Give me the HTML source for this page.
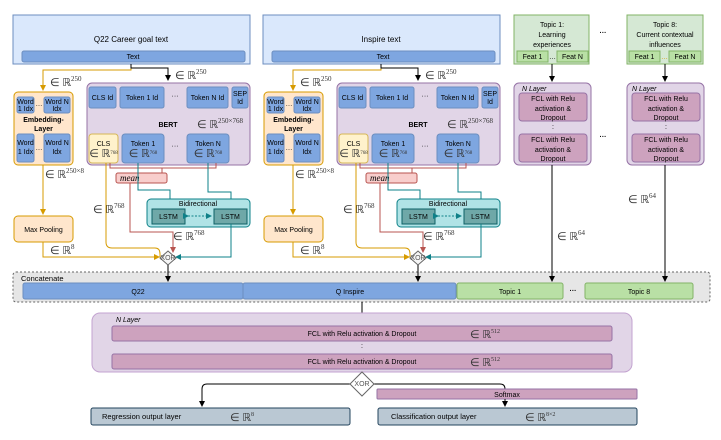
<!DOCTYPE html>
<html><head><meta charset="utf-8"><style>
body{margin:0;background:#fff}
svg{display:block;font-family:"Liberation Sans",sans-serif}
.s{font-size:7px;text-anchor:middle}
.m{font-family:"Liberation Serif",serif;font-size:11px;fill:#333}
.p{font-size:7px}
</style></head><body>
<svg width="721" height="440" viewBox="0 0 721 440" xmlns="http://www.w3.org/2000/svg">
<defs>
<marker id="ak" markerWidth="6" markerHeight="6" refX="5" refY="3" orient="auto" markerUnits="userSpaceOnUse"><path d="M0,0L6,3L0,6z" fill="#000"/></marker>
<marker id="ao" markerWidth="6" markerHeight="6" refX="5" refY="3" orient="auto" markerUnits="userSpaceOnUse"><path d="M0,0L6,3L0,6z" fill="#d79b00"/></marker>
<marker id="ar" markerWidth="6" markerHeight="6" refX="5" refY="3" orient="auto" markerUnits="userSpaceOnUse"><path d="M0,0L6,3L0,6z" fill="#b85450"/></marker>
<marker id="at" markerWidth="6" markerHeight="6" refX="5" refY="3" orient="auto" markerUnits="userSpaceOnUse"><path d="M0,0L6,3L0,6z" fill="#0e8088"/></marker>
</defs>
<rect x="13" y="272" width="697" height="30" rx="3" fill="#e6e6e6" stroke="#666" stroke-dasharray="2,2"/>

<g transform="translate(0,0)">
<rect x="13" y="15" width="237" height="49" fill="#dae8fc" stroke="#6c8ebf"/>
<rect x="22" y="51" width="223" height="11" rx="2" fill="#7ea6e0" stroke="#6c8ebf"/>
<text x="133" y="59" class="s">Text</text>
<path d="M131,64V70H43V90" fill="none" stroke="#d79b00" marker-end="url(#ao)"/>
<path d="M131,64V68H168V80" fill="none" stroke="#000" marker-end="url(#ak)"/>
<text x="175" y="79" class="m">∈ ℝ<tspan class="p" dy="-5">250</tspan></text>
<text x="50" y="86" class="m">∈ ℝ<tspan class="p" dy="-5">250</tspan></text>
<rect x="14" y="92" width="59" height="73" rx="4" fill="#ffe6cc" stroke="#d79b00"/>
<rect x="17" y="97" width="17" height="16" rx="2" fill="#7ea6e0" stroke="#6c8ebf"/>
<rect x="44" y="97" width="26" height="16" rx="2" fill="#7ea6e0" stroke="#6c8ebf"/>
<text x="25.5" y="104" class="s" font-size="6">Word</text><text x="25.5" y="111" class="s" font-size="6">1 Idx</text>
<text x="57" y="104" class="s" font-size="6">Word N</text><text x="57" y="111" class="s" font-size="6">Idx</text>
<text x="39" y="106" class="s">…</text>
<text x="43.5" y="122" class="s" font-weight="bold" font-size="7.5">Embedding-</text>
<text x="43.5" y="131" class="s" font-weight="bold" font-size="7.5">Layer</text>
<rect x="17" y="134" width="17" height="28" rx="2" fill="#7ea6e0" stroke="#6c8ebf"/>
<rect x="44" y="134" width="26" height="28" rx="2" fill="#7ea6e0" stroke="#6c8ebf"/>
<text x="25.5" y="145" class="s" font-size="6">Word</text><text x="25.5" y="154" class="s" font-size="6">1 Idx</text>
<text x="57" y="145" class="s" font-size="6">Word N</text><text x="57" y="154" class="s" font-size="6">Idx</text>
<text x="39" y="150" class="s">…</text>
<rect x="87" y="83" width="163" height="82" rx="5" fill="#e1d5e7" stroke="#9673a6"/>
<rect x="89" y="87" width="27" height="21" rx="2" fill="#7ea6e0" stroke="#6c8ebf"/><text x="102.5" y="100" class="s">CLS Id</text>
<rect x="120" y="87" width="44" height="21" rx="2" fill="#7ea6e0" stroke="#6c8ebf"/><text x="142" y="100" class="s">Token 1 Id</text>
<text x="175" y="98" class="s" font-size="9">···</text>
<rect x="187" y="87" width="41" height="21" rx="2" fill="#7ea6e0" stroke="#6c8ebf"/><text x="207.5" y="100" class="s">Token N Id</text>
<rect x="232" y="87" width="16" height="21" rx="2" fill="#7ea6e0" stroke="#6c8ebf"/><text x="240" y="96" class="s">SEP</text><text x="240" y="104" class="s">Id</text>
<text x="168" y="127" class="s" font-weight="bold" font-size="7.5">BERT</text>
<text x="197" y="128" class="m">∈ ℝ<tspan class="p" dy="-5">250×768</tspan></text>
<rect x="89" y="134" width="29" height="29" rx="3" fill="#fff2cc" stroke="#d6b656"/>
<text x="103.5" y="146" class="s">CLS</text><text x="103.5" y="157" class="m" font-size="8" text-anchor="middle">∈ ℝ<tspan font-size="5" dy="-3">768</tspan></text>
<rect x="122" y="134" width="42" height="29" rx="3" fill="#7ea6e0" stroke="#6c8ebf"/>
<text x="143" y="146" class="s">Token 1</text><text x="143" y="157" class="m" font-size="8" text-anchor="middle">∈ ℝ<tspan font-size="5" dy="-3">768</tspan></text>
<text x="175" y="148" class="s" font-size="9">···</text>
<rect x="187" y="134" width="42" height="29" rx="3" fill="#7ea6e0" stroke="#6c8ebf"/>
<text x="208" y="146" class="s">Token N</text><text x="208" y="157" class="m" font-size="8" text-anchor="middle">∈ ℝ<tspan font-size="5" dy="-3">768</tspan></text>
<path d="M110,163V168H216V163M162,168V173" fill="none" stroke="#b85450"/>
<rect x="116" y="173" width="51" height="10" rx="2" fill="#f8cecc" stroke="#b85450"/>
<text x="120" y="181" font-family="Liberation Serif,serif" font-style="italic" font-size="9">mean</text>
<path d="M130,183V232H173V252" fill="none" stroke="#b85450" marker-end="url(#ar)"/>
<path d="M138,163V190H170V199" fill="none" stroke="#0e8088"/>
<path d="M208,163V192H231V207" fill="none" stroke="#0e8088" marker-end="url(#at)"/>
<rect x="147" y="199" width="103" height="28" rx="4" fill="#b0e3e6" stroke="#0e8088"/>
<text x="198" y="206" class="s">Bidirectional</text>
<rect x="152" y="209" width="33" height="15" fill="#6fa8a8" stroke="#0e6066"/><text x="168.5" y="219" class="s">LSTM</text>
<rect x="214" y="209" width="33" height="15" fill="#6fa8a8" stroke="#0e6066"/><text x="230.5" y="219" class="s">LSTM</text>
<path d="M188,216H211" stroke="#0e8088" stroke-dasharray="2,1.5" marker-end="url(#at)" marker-start="url(#at)"/>
<path d="M231,224V257H176" fill="none" stroke="#0e8088" marker-end="url(#at)"/>
<path d="M106,163V242Q106,248 112,248H155Q160,248 160,254V257" fill="none" stroke="#d79b00"/>
<path d="M43,165V214" stroke="#d79b00" marker-end="url(#ao)"/>
<text x="45" y="178" class="m">∈ ℝ<tspan class="p" dy="-5">250×8</tspan></text>
<text x="93" y="213" class="m">∈ ℝ<tspan class="p" dy="-5">768</tspan></text>
<text x="173" y="240" class="m">∈ ℝ<tspan class="p" dy="-5">768</tspan></text>
<rect x="14" y="216" width="59" height="26" rx="4" fill="#ffe6cc" stroke="#d79b00"/>
<text x="43.5" y="232" class="s" font-size="7.5">Max Pooling</text>
<path d="M43,242V257H159" fill="none" stroke="#d79b00" marker-end="url(#ao)"/>
<text x="50" y="254" class="m">∈ ℝ<tspan class="p" dy="-5">8</tspan></text>
<path d="M168,251L176,258L168,265L160,258z" fill="#f5f5f5" stroke="#666"/>
<text x="168" y="260" class="s" font-size="5" fill="#555">XOR</text>
<path d="M168,265V281" stroke="#000" marker-end="url(#ak)"/>
<text x="131" y="42" font-size="8" text-anchor="middle">Q22 Career goal text</text>
</g>

<g transform="translate(250,0)">
<rect x="13" y="15" width="237" height="49" fill="#dae8fc" stroke="#6c8ebf"/>
<rect x="22" y="51" width="223" height="11" rx="2" fill="#7ea6e0" stroke="#6c8ebf"/>
<text x="133" y="59" class="s">Text</text>
<path d="M131,64V70H43V90" fill="none" stroke="#d79b00" marker-end="url(#ao)"/>
<path d="M131,64V68H168V80" fill="none" stroke="#000" marker-end="url(#ak)"/>
<text x="175" y="79" class="m">∈ ℝ<tspan class="p" dy="-5">250</tspan></text>
<text x="50" y="86" class="m">∈ ℝ<tspan class="p" dy="-5">250</tspan></text>
<rect x="14" y="92" width="59" height="73" rx="4" fill="#ffe6cc" stroke="#d79b00"/>
<rect x="17" y="97" width="17" height="16" rx="2" fill="#7ea6e0" stroke="#6c8ebf"/>
<rect x="44" y="97" width="26" height="16" rx="2" fill="#7ea6e0" stroke="#6c8ebf"/>
<text x="25.5" y="104" class="s" font-size="6">Word</text><text x="25.5" y="111" class="s" font-size="6">1 Idx</text>
<text x="57" y="104" class="s" font-size="6">Word N</text><text x="57" y="111" class="s" font-size="6">Idx</text>
<text x="39" y="106" class="s">…</text>
<text x="43.5" y="122" class="s" font-weight="bold" font-size="7.5">Embedding-</text>
<text x="43.5" y="131" class="s" font-weight="bold" font-size="7.5">Layer</text>
<rect x="17" y="134" width="17" height="28" rx="2" fill="#7ea6e0" stroke="#6c8ebf"/>
<rect x="44" y="134" width="26" height="28" rx="2" fill="#7ea6e0" stroke="#6c8ebf"/>
<text x="25.5" y="145" class="s" font-size="6">Word</text><text x="25.5" y="154" class="s" font-size="6">1 Idx</text>
<text x="57" y="145" class="s" font-size="6">Word N</text><text x="57" y="154" class="s" font-size="6">Idx</text>
<text x="39" y="150" class="s">…</text>
<rect x="87" y="83" width="163" height="82" rx="5" fill="#e1d5e7" stroke="#9673a6"/>
<rect x="89" y="87" width="27" height="21" rx="2" fill="#7ea6e0" stroke="#6c8ebf"/><text x="102.5" y="100" class="s">CLS Id</text>
<rect x="120" y="87" width="44" height="21" rx="2" fill="#7ea6e0" stroke="#6c8ebf"/><text x="142" y="100" class="s">Token 1 Id</text>
<text x="175" y="98" class="s" font-size="9">···</text>
<rect x="187" y="87" width="41" height="21" rx="2" fill="#7ea6e0" stroke="#6c8ebf"/><text x="207.5" y="100" class="s">Token N Id</text>
<rect x="232" y="87" width="16" height="21" rx="2" fill="#7ea6e0" stroke="#6c8ebf"/><text x="240" y="96" class="s">SEP</text><text x="240" y="104" class="s">Id</text>
<text x="168" y="127" class="s" font-weight="bold" font-size="7.5">BERT</text>
<text x="197" y="128" class="m">∈ ℝ<tspan class="p" dy="-5">250×768</tspan></text>
<rect x="89" y="134" width="29" height="29" rx="3" fill="#fff2cc" stroke="#d6b656"/>
<text x="103.5" y="146" class="s">CLS</text><text x="103.5" y="157" class="m" font-size="8" text-anchor="middle">∈ ℝ<tspan font-size="5" dy="-3">768</tspan></text>
<rect x="122" y="134" width="42" height="29" rx="3" fill="#7ea6e0" stroke="#6c8ebf"/>
<text x="143" y="146" class="s">Token 1</text><text x="143" y="157" class="m" font-size="8" text-anchor="middle">∈ ℝ<tspan font-size="5" dy="-3">768</tspan></text>
<text x="175" y="148" class="s" font-size="9">···</text>
<rect x="187" y="134" width="42" height="29" rx="3" fill="#7ea6e0" stroke="#6c8ebf"/>
<text x="208" y="146" class="s">Token N</text><text x="208" y="157" class="m" font-size="8" text-anchor="middle">∈ ℝ<tspan font-size="5" dy="-3">768</tspan></text>
<path d="M110,163V168H216V163M162,168V173" fill="none" stroke="#b85450"/>
<rect x="116" y="173" width="51" height="10" rx="2" fill="#f8cecc" stroke="#b85450"/>
<text x="120" y="181" font-family="Liberation Serif,serif" font-style="italic" font-size="9">mean</text>
<path d="M130,183V232H173V252" fill="none" stroke="#b85450" marker-end="url(#ar)"/>
<path d="M138,163V190H170V199" fill="none" stroke="#0e8088"/>
<path d="M208,163V192H231V207" fill="none" stroke="#0e8088" marker-end="url(#at)"/>
<rect x="147" y="199" width="103" height="28" rx="4" fill="#b0e3e6" stroke="#0e8088"/>
<text x="198" y="206" class="s">Bidirectional</text>
<rect x="152" y="209" width="33" height="15" fill="#6fa8a8" stroke="#0e6066"/><text x="168.5" y="219" class="s">LSTM</text>
<rect x="214" y="209" width="33" height="15" fill="#6fa8a8" stroke="#0e6066"/><text x="230.5" y="219" class="s">LSTM</text>
<path d="M188,216H211" stroke="#0e8088" stroke-dasharray="2,1.5" marker-end="url(#at)" marker-start="url(#at)"/>
<path d="M231,224V257H176" fill="none" stroke="#0e8088" marker-end="url(#at)"/>
<path d="M106,163V242Q106,248 112,248H155Q160,248 160,254V257" fill="none" stroke="#d79b00"/>
<path d="M43,165V214" stroke="#d79b00" marker-end="url(#ao)"/>
<text x="45" y="178" class="m">∈ ℝ<tspan class="p" dy="-5">250×8</tspan></text>
<text x="93" y="213" class="m">∈ ℝ<tspan class="p" dy="-5">768</tspan></text>
<text x="173" y="240" class="m">∈ ℝ<tspan class="p" dy="-5">768</tspan></text>
<rect x="14" y="216" width="59" height="26" rx="4" fill="#ffe6cc" stroke="#d79b00"/>
<text x="43.5" y="232" class="s" font-size="7.5">Max Pooling</text>
<path d="M43,242V257H159" fill="none" stroke="#d79b00" marker-end="url(#ao)"/>
<text x="50" y="254" class="m">∈ ℝ<tspan class="p" dy="-5">8</tspan></text>
<path d="M168,251L176,258L168,265L160,258z" fill="#f5f5f5" stroke="#666"/>
<text x="168" y="260" class="s" font-size="5" fill="#555">XOR</text>
<path d="M168,265V281" stroke="#000" marker-end="url(#ak)"/>
<text x="131" y="42" font-size="8" text-anchor="middle">Inspire text</text>
</g>

<rect x="514" y="15" width="75" height="49" fill="#d5e8d4" stroke="#82b366"/>
<text x="552" y="27" class="s" font-size="7.5">Topic 1:</text><text x="552" y="37" class="s" font-size="7.5">Learning</text><text x="552" y="47" class="s" font-size="7.5">experiences</text>
<rect x="517" y="51" width="31" height="11" fill="#b9e0a5" stroke="#82b366"/><text x="532.5" y="59" class="s">Feat 1</text>
<rect x="557" y="51" width="31" height="11" fill="#b9e0a5" stroke="#82b366"/><text x="572.5" y="59" class="s">Feat N</text>
<text x="552.5" y="59" class="s">…</text>
<rect x="627" y="15" width="76" height="49" fill="#d5e8d4" stroke="#82b366"/>
<text x="665" y="27" class="s" font-size="7.5">Topic 8:</text><text x="665" y="37" class="s" font-size="7.5">Current contextual</text><text x="665" y="47" class="s" font-size="7.5">influences</text>
<rect x="629" y="51" width="31" height="11" fill="#b9e0a5" stroke="#82b366"/><text x="644.5" y="59" class="s">Feat 1</text>
<rect x="669" y="51" width="32" height="11" fill="#b9e0a5" stroke="#82b366"/><text x="685" y="59" class="s">Feat N</text>
<text x="664.5" y="59" class="s" fill="#d79b00">…</text>
<text x="603" y="35" class="s" font-size="11" font-weight="bold">···</text>
<text x="603" y="139" class="s" font-size="11" font-weight="bold">···</text>
<text x="573" y="293" class="s" font-size="11" font-weight="bold">···</text>
<path d="M552,64V81" stroke="#000" marker-end="url(#ak)"/>
<path d="M665,64V81" stroke="#000" marker-end="url(#ak)"/>
<rect x="514" y="83" width="77" height="82" rx="5" fill="#e1d5e7" stroke="#9673a6"/>
<rect x="627" y="83" width="77" height="82" rx="5" fill="#e1d5e7" stroke="#9673a6"/>
<text x="522" y="91" font-size="7" font-style="italic">N Layer</text>
<text x="632" y="91" font-size="7" font-style="italic">N Layer</text>
<g transform="translate(0,0)">
<rect x="519" y="93" width="68" height="28" rx="3" fill="#cda2be" stroke="#9673a6"/>
<text x="553" y="101" class="s" font-size="7.5">FCL with Relu</text><text x="553" y="111" class="s" font-size="7.5">activation &amp;</text><text x="553" y="120" class="s" font-size="7.5">Dropout</text>
<text x="553" y="129" class="s">:</text>
<rect x="519" y="134" width="68" height="28" rx="3" fill="#cda2be" stroke="#9673a6"/>
<text x="553" y="142" class="s" font-size="7.5">FCL with Relu</text><text x="553" y="152" class="s" font-size="7.5">activation &amp;</text><text x="553" y="161" class="s" font-size="7.5">Dropout</text>
</g>
<g transform="translate(113,0)">
<rect x="519" y="93" width="68" height="28" rx="3" fill="#cda2be" stroke="#9673a6"/>
<text x="553" y="101" class="s" font-size="7.5">FCL with Relu</text><text x="553" y="111" class="s" font-size="7.5">activation &amp;</text><text x="553" y="120" class="s" font-size="7.5">Dropout</text>
<text x="553" y="129" class="s">:</text>
<rect x="519" y="134" width="68" height="28" rx="3" fill="#cda2be" stroke="#9673a6"/>
<text x="553" y="142" class="s" font-size="7.5">FCL with Relu</text><text x="553" y="152" class="s" font-size="7.5">activation &amp;</text><text x="553" y="161" class="s" font-size="7.5">Dropout</text>
</g>
<path d="M552,165V281" stroke="#000" marker-end="url(#ak)"/>
<path d="M665,165V281" stroke="#000" marker-end="url(#ak)"/>
<text x="557" y="240" class="m">∈ ℝ<tspan class="p" dy="-5">64</tspan></text>
<text x="628" y="203" class="m">∈ ℝ<tspan class="p" dy="-5">64</tspan></text>

<text x="21" y="281" font-size="7.5">Concatenate</text>
<rect x="23" y="283" width="220" height="16" rx="2" fill="#7ea6e0" stroke="#6c8ebf"/><text x="138" y="294" class="s" font-size="7.5">Q22</text>
<rect x="243" y="283" width="213" height="16" rx="2" fill="#7ea6e0" stroke="#6c8ebf"/><text x="350" y="294" class="s" font-size="7.5">Q Inspire</text>
<rect x="457" y="283" width="106" height="16" rx="2" fill="#b9e0a5" stroke="#82b366"/><text x="510" y="294" class="s" font-size="7.5">Topic 1</text>
<rect x="585" y="283" width="108" height="16" rx="2" fill="#b9e0a5" stroke="#82b366"/><text x="639" y="294" class="s" font-size="7.5">Topic 8</text>
<path d="M362,302V313" stroke="#000"/>
<rect x="92" y="313" width="540" height="59" rx="8" fill="#e1d5e7" stroke="#c3a3d0"/>
<text x="116" y="322" font-size="7" font-style="italic">N Layer</text>
<rect x="112" y="326" width="500" height="15" rx="2" fill="#cda2be" stroke="#9673a6"/>
<text x="362" y="336" class="s" font-size="7.5">FCL with Relu activation &amp; Dropout</text>
<text x="470" y="338" class="m" font-size="10">∈ ℝ<tspan font-size="6" dy="-5">512</tspan></text>
<text x="362" y="348" class="s">:</text>
<rect x="112" y="354" width="500" height="15" rx="2" fill="#cda2be" stroke="#9673a6"/>
<text x="362" y="364" class="s" font-size="7.5">FCL with Relu activation &amp; Dropout</text>
<text x="470" y="366" class="m" font-size="10">∈ ℝ<tspan font-size="6" dy="-5">512</tspan></text>
<path d="M350,384H207Q202,384 202,389V406" fill="none" stroke="#000" marker-end="url(#ak)"/>
<path d="M374,384H500Q505,384 505,389V406" fill="none" stroke="#000" marker-end="url(#ak)"/>
<rect x="377" y="389" width="260" height="10" rx="1" fill="#cda2be" stroke="#9673a6"/>
<text x="507" y="397" class="s" font-size="7.5">Softmax</text>
<path d="M505,399V406" stroke="#000"/>
<path d="M362,372L374,384L362,396L350,384z" fill="#fff" stroke="#666"/>
<text x="362" y="386" class="s" font-size="5" fill="#555">XOR</text>
<rect x="91" y="408" width="259" height="17" rx="2" fill="#bac8d3" stroke="#23445d"/>
<text x="102" y="419" font-size="7.5">Regression output layer</text>
<text x="230" y="421" class="m" font-size="10">∈ ℝ<tspan font-size="6" dy="-5">8</tspan></text>
<rect x="378" y="408" width="259" height="17" rx="2" fill="#bac8d3" stroke="#23445d"/>
<text x="391" y="419" font-size="7.5">Classification output layer</text>
<text x="525" y="421" class="m" font-size="10">∈ ℝ<tspan font-size="6" dy="-5">8×2</tspan></text>
</svg>
</body></html>
